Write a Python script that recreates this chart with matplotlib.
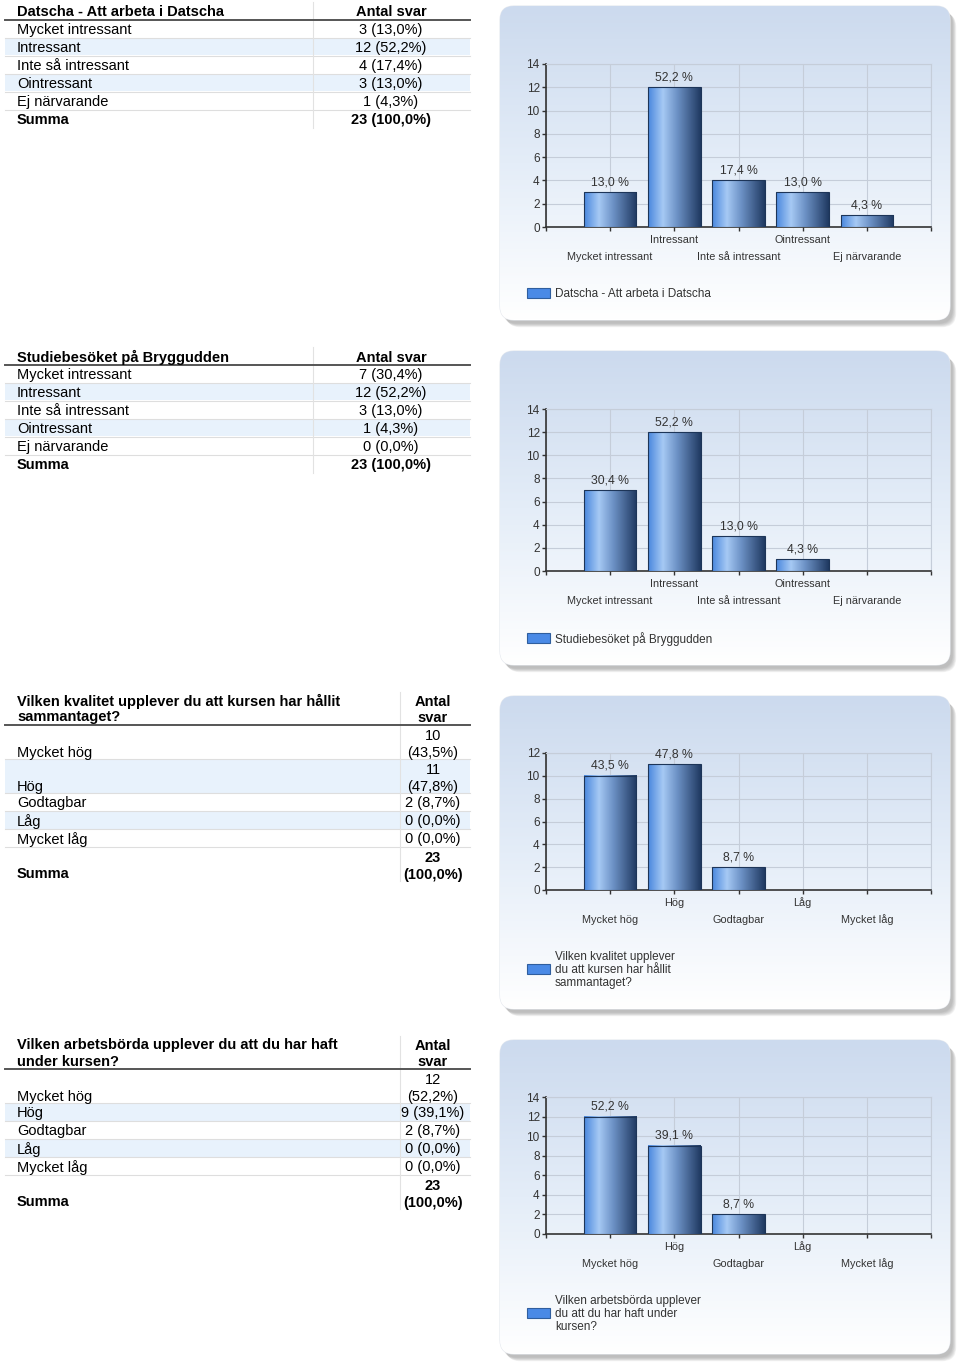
import numpy as np
import matplotlib
matplotlib.use("Agg")
import matplotlib.pyplot as plt
from matplotlib.patches import FancyBboxPatch, Rectangle
from matplotlib.colors import LinearSegmentedColormap

# data
cats_intresse = ["Mycket intressant", "Intressant", "Inte så intressant", "Ointressant", "Ej närvarande"]
cats_niva = ["Mycket hög", "Hög", "Godtagbar", "Låg", "Mycket låg"]

svar_datscha = [3, 12, 4, 3, 1]
svar_brygga = [7, 12, 3, 1, 0]
svar_kvalitet = [10, 11, 2, 0, 0]
svar_arbete = [12, 9, 2, 0, 0]

titel_datscha = "Datscha - Att arbeta i Datscha"
titel_brygga = "Studiebesöket på Bryggudden"
titel_kvalitet = ["Vilken kvalitet upplever du att kursen har hållit", "sammantaget?"]
titel_arbete = ["Vilken arbetsbörda upplever du att du har haft", "under kursen?"]

legend_kvalitet = "Vilken kvalitet upplever\ndu att kursen har hållit\nsammantaget?"
legend_arbete = "Vilken arbetsbörda upplever\ndu att du har haft under\nkursen?"

y_ticks_max = [14, 14, 12, 14]

W, H = 960, 1364
TFONT = "Liberation Sans"
CFONT = "Liberation Sans"
DY = 1.5  # small nudge so table text sits like in the report

fig = plt.figure(figsize=(W / 100, H / 100), dpi=100)
ax0 = fig.add_axes([0, 0, 1, 1])
ax0.set_xlim(0, W)
ax0.set_ylim(H, 0)
ax0.axis("off")


def fmt_pct(n, total):
    return ("%.1f" % (n / total * 100)).replace(".", ",")


def ttext(x, y, s, bold="normal", ha="left"):
    ax0.text(x, y + DY, s, fontsize=10.5, fontweight=bold, family=TFONT, va="center", ha=ha)


def draw_table(top, title, cats, counts, narrow):
    total = sum(counts)
    x_left, x_right = 5, 470
    col_x = 400 if narrow else 313
    val_x = 433 if narrow else 391
    if isinstance(title, list):
        ttext(17, top + 10, title[0], "bold")
        ttext(17, top + 26, title[1], "bold")
        ttext(val_x, top + 10, "Antal", "bold", "center")
        ttext(val_x, top + 26, "svar", "bold", "center")
        y = top + 35
    else:
        ttext(17, top + 11, title, "bold")
        ttext(val_x, top + 11, "Antal svar", "bold", "center")
        y = top + 19.5
    ax0.plot([x_left, x_right], [y, y], color="#555555", lw=1.4)
    y_head = top + 2
    rows = list(zip(cats, counts)) + [("Summa", total)]
    for i, (lab, n) in enumerate(rows):
        val = "%d (%s%%)" % (n, fmt_pct(n, total))
        bold = "bold" if lab == "Summa" else "normal"
        two = narrow and n >= 10
        h = 34 if two else 18
        if i % 2 == 1 and lab != "Summa":
            ax0.add_patch(Rectangle((x_left, y + 0.8), x_right - x_left, h - 1.2,
                                    facecolor="#e8f2fc", edgecolor="none", zorder=0))
        if two:
            ttext(val_x, y + 9.5, "%d" % n, bold, "center")
            ttext(val_x, y + 26, "(%s%%)" % fmt_pct(n, total), bold, "center")
            ttext(17, y + 26, lab, bold)
        else:
            ttext(val_x, y + 9, val, bold, "center")
            ttext(17, y + 9, lab, bold)
        y += h
        if lab != "Summa":
            ax0.plot([x_left, x_right], [y, y], color="#dedede", lw=0.8, zorder=1)
    ax0.plot([col_x, col_x], [y_head, y], color="#e2e2e2", lw=0.8, zorder=1)


bg_cmap = LinearSegmentedColormap.from_list("bg", ["#ccdaee", "#e4edf8", "#ffffff"])
bar_cmap = LinearSegmentedColormap.from_list(
    "bar", [(0, "#4a88de"), (0.28, "#a6c9f4"), (0.55, "#6d92c6"), (1, "#203a62")])


def draw_panel(top, bottom):
    x0, x1 = 500, 950
    for k in range(7, 0, -1):
        sh = FancyBboxPatch((x0 + 2 + k * 0.6, top + 3 + k * 0.6), x1 - x0, bottom - top,
                            boxstyle="round,pad=0,rounding_size=14", facecolor="#707070",
                            edgecolor="none", alpha=0.08, zorder=1)
        ax0.add_patch(sh)
    box = FancyBboxPatch((x0, top), x1 - x0, bottom - top, boxstyle="round,pad=0,rounding_size=14",
                         facecolor="white", edgecolor="#e4e8ee", lw=0.8, zorder=2)
    ax0.add_patch(box)
    grad = np.linspace(0, 1, 200).reshape(-1, 1)
    im = ax0.imshow(grad, cmap=bg_cmap, extent=(x0, x1, bottom, top), aspect="auto", zorder=2.5)
    im.set_clip_path(box)


def draw_chart(ax_top, ax_bottom, cats, counts, ymax, legend_text, legend_y):
    total = sum(counts)
    ax = fig.add_axes([546 / W, 1 - ax_bottom / H, (931 - 546) / W, (ax_bottom - ax_top) / H])
    ax.patch.set_alpha(0)
    ax.set_xlim(0, len(cats) + 1)
    ax.set_ylim(0, ymax)
    ax.set_yticks(range(0, ymax + 1, 2))
    ax.set_xticks(range(0, len(cats) + 2))
    ax.set_xticklabels([])
    ax.grid(True, color="#c5cdd9", lw=0.8)
    ax.set_axisbelow(True)
    for s in ["top", "right"]:
        ax.spines[s].set_color("#c5cdd9")
        ax.spines[s].set_linewidth(0.8)
    for s in ["left", "bottom"]:
        ax.spines[s].set_color("#333333")
        ax.spines[s].set_linewidth(1.2)
    ax.tick_params(axis="both", length=3, width=1, color="#333333", labelsize=8.5, labelcolor="#333333", pad=1.5)
    for lab in ax.get_yticklabels():
        lab.set_family(CFONT)

    grad = np.linspace(0, 1, 100).reshape(1, -1)
    for i, n in enumerate(counts):
        xc = i + 1
        if n > 0:
            ax.imshow(grad, cmap=bar_cmap, extent=(xc - 0.41, xc + 0.41, 0, n), aspect="auto", zorder=3)
            ax.add_patch(Rectangle((xc - 0.41, 0), 0.82, n, fill=False, edgecolor="#1d3558", lw=0.8, zorder=4))
            ax.annotate("%s %%" % fmt_pct(n, total), (xc, n), xytext=(0, 4), textcoords="offset pixels",
                        ha="center", va="bottom", fontsize=8.8, color="#333333", family=CFONT)
        off = -13 if i % 2 == 1 else -30
        ax.annotate(cats[i], (xc, 0), xycoords=ax.get_xaxis_transform(), xytext=(0, off),
                    textcoords="offset pixels", ha="center", va="center", fontsize=7.8,
                    color="#333333", family=CFONT, annotation_clip=False)
    ax.set_xlim(0, len(cats) + 1)
    ax.set_ylim(0, ymax)

    ax0.add_patch(Rectangle((527, legend_y - 5), 23, 10, facecolor="#4a8ae6", edgecolor="#2f5e9e",
                            lw=0.8, zorder=5))
    ax0.text(555, legend_y + 1, legend_text, fontsize=8.5, color="#333333", family=CFONT,
             va="center", ha="left", linespacing=1.1, zorder=5)


draw_table(0, titel_datscha, cats_intresse, svar_datscha, False)
draw_table(345, titel_brygga, cats_intresse, svar_brygga, False)
draw_table(690, titel_kvalitet, cats_niva, svar_kvalitet, True)
draw_table(1034, titel_arbete, cats_niva, svar_arbete, True)

draw_panel(6, 320)
draw_panel(351, 665)
draw_panel(696, 1009)
draw_panel(1040, 1354)

draw_chart(64, 227, cats_intresse, svar_datscha, y_ticks_max[0], titel_datscha, 293)
draw_chart(409, 571, cats_intresse, svar_brygga, y_ticks_max[1], titel_brygga, 638)
draw_chart(753, 890, cats_niva, svar_kvalitet, y_ticks_max[2], legend_kvalitet, 969)
draw_chart(1097, 1234, cats_niva, svar_arbete, y_ticks_max[3], legend_arbete, 1313)

fig.savefig("out.png", dpi=100)
